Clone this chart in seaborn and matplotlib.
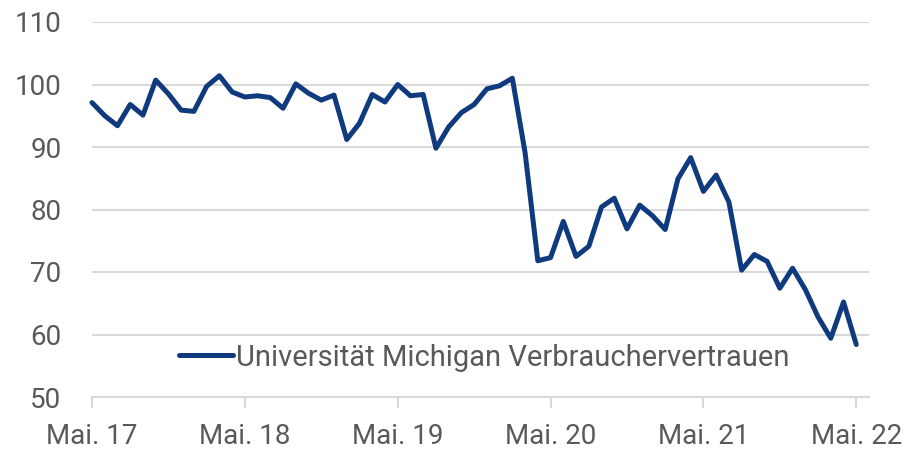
import numpy as np
import pandas as pd
import matplotlib
matplotlib.use("Agg")
import matplotlib.pyplot as plt
import seaborn as sns

# Universität Michigan Verbrauchervertrauen, Mai 2017 - Mai 2022 (monatlich)
values = [97.1, 95.0, 93.4, 96.8, 95.1, 100.7, 98.5, 95.9,
          95.7, 99.7, 101.4, 98.8, 98.0, 98.2, 97.9, 96.2, 100.1, 98.6, 97.5, 98.3,
          91.2, 93.8, 98.4, 97.2, 100.0, 98.2, 98.4, 89.8, 93.2, 95.5, 96.8, 99.3,
          99.8, 101.0, 89.1, 71.8, 72.3, 78.1, 72.5, 74.1, 80.4, 81.8, 76.9, 80.7,
          79.0, 76.8, 84.9, 88.3, 82.9, 85.5, 81.2, 70.3, 72.8, 71.7, 67.4, 70.6,
          67.2, 62.8, 59.4, 65.2, 58.4]
tick_pos = [0, 12, 24, 36, 48, 60]
tick_labels = ["Mai. 17", "Mai. 18", "Mai. 19", "Mai. 20", "Mai. 21", "Mai. 22"]
y_ticks = [50, 60, 70, 80, 90, 100, 110]
series_name = "Universität Michigan Verbrauchervertrauen"

df = pd.DataFrame({"monat": np.arange(len(values)), "wert": values})

sns.set_style("white")
plt.rcParams['font.family'] = ['Roboto', 'DejaVu Sans']

grey = "#595959"
gridc = "#d9d9d9"

fig = plt.figure(figsize=(9.13, 4.5), dpi=100)
ax = fig.add_axes([92 / 913, 1 - 397 / 450, (869 - 92) / 913, (397 - 22) / 450])

sns.lineplot(data=df, x="monat", y="wert", ax=ax, color="#0f3a7d", lw=3.6,
             label=series_name, solid_joinstyle="round", solid_capstyle="round",
             clip_on=False)

ax.set_xlim(0, 61)
ax.set_ylim(50, 110)
ax.set_yticks(y_ticks)
ax.set_xticks(tick_pos)
ax.set_xticklabels(tick_labels)
ax.set_xlabel("")
ax.set_ylabel("")

ax.yaxis.grid(True, color=gridc, lw=1.5)
ax.set_axisbelow(True)
for s in ["top", "right", "left"]:
    ax.spines[s].set_visible(False)
ax.spines["bottom"].set_color(gridc)
ax.spines["bottom"].set_linewidth(1.5)

ax.tick_params(axis="y", length=0, pad=22, labelsize=20, labelcolor=grey)
ax.tick_params(axis="x", length=8, width=1.5, color=gridc, direction="out",
               pad=11, labelsize=20, labelcolor=grey, bottom=True)

leg = ax.legend(loc="center", bbox_to_anchor=(0.505, 0.105), frameon=False,
                fontsize=21, handlelength=1.85, handletextpad=0.12)
for t in leg.get_texts():
    t.set_color(grey)

fig.savefig("out.png", dpi=100)
